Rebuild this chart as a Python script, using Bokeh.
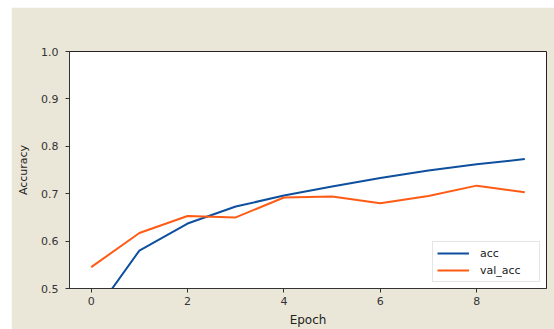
from bokeh.plotting import figure
from bokeh.models import Range1d, FixedTicker, Legend, LegendItem, Spacer, CustomJSTickFormatter
from bokeh.layouts import row, column
from bokeh.embed import file_html
from bokeh.resources import INLINE

epochs = [0, 1, 2, 3, 4, 5, 6, 7, 8, 9]
acc = [0.438, 0.580, 0.637, 0.673, 0.696, 0.715, 0.733, 0.749, 0.762, 0.773]
val_acc = [0.545, 0.617, 0.653, 0.650, 0.692, 0.694, 0.680, 0.695, 0.717, 0.703]
x_ticks = [0, 2, 4, 6, 8]
y_ticks = [0.5, 0.6, 0.7, 0.8, 0.9, 1.0]

BG = "#ebe7d8"
FONT = "DejaVu Sans"

p = figure(width=543, height=322, output_backend="svg", toolbar_location=None,
           x_range=Range1d(-0.45, 9.45), y_range=Range1d(0.5, 1.0),
           min_border_left=58, min_border_right=8, min_border_top=44, min_border_bottom=37)
p.border_fill_color = BG
p.background_fill_color = "white"
p.outline_line_color = "#222222"
p.outline_line_width = 1
p.grid.visible = False

l1 = p.line(epochs, acc, line_color="#0e4f9e", line_width=2)
l2 = p.line(epochs, val_acc, line_color="#ff5b14", line_width=2)

for ax in (p.xaxis[0], p.yaxis[0]):
    ax.axis_line_color = "#333333"
    ax.major_tick_line_color = "#333333"
    ax.major_tick_out = 4
    ax.major_tick_in = 0
    ax.minor_tick_out = 0
    ax.minor_tick_in = 0
    ax.major_label_text_font = FONT
    ax.major_label_text_font_size = "11px"
    ax.major_label_text_color = "#333333"
    ax.axis_label_text_font = FONT
    ax.axis_label_text_font_style = "normal"
    ax.axis_label_text_color = "#222222"

p.xaxis[0].ticker = FixedTicker(ticks=x_ticks)
p.yaxis[0].ticker = FixedTicker(ticks=y_ticks)
p.yaxis[0].formatter = CustomJSTickFormatter(code="return tick.toFixed(1);")
p.xaxis[0].major_label_standoff = 4
p.yaxis[0].major_label_standoff = 7
p.xaxis[0].axis_label = "Epoch"
p.xaxis[0].axis_label_text_font_size = "12px"
p.xaxis[0].axis_label_standoff = 5
p.yaxis[0].axis_label = "Accuracy"
p.yaxis[0].axis_label_text_font_size = "11px"
p.yaxis[0].axis_label_standoff = 8

legend = Legend(items=[LegendItem(label="acc", renderers=[l1]),
                       LegendItem(label="val_acc", renderers=[l2])],
                location="bottom_right")
legend.label_text_font = FONT
legend.label_text_font_size = "11px"
legend.label_text_color = "#222222"
legend.glyph_width = 32
legend.glyph_height = 14
legend.label_height = 14
legend.label_width = 55
legend.label_standoff = 11
legend.spacing = 3
legend.padding = 4
legend.margin = 6
legend.border_line_color = "#cccccc"
legend.border_line_width = 1
legend.background_fill_color = "white"
legend.background_fill_alpha = 1.0
p.add_layout(legend)

layout = column(Spacer(width=554, height=7),
                row(Spacer(width=11, height=322), p))

open("out.html", "w").write(file_html(layout, INLINE))
